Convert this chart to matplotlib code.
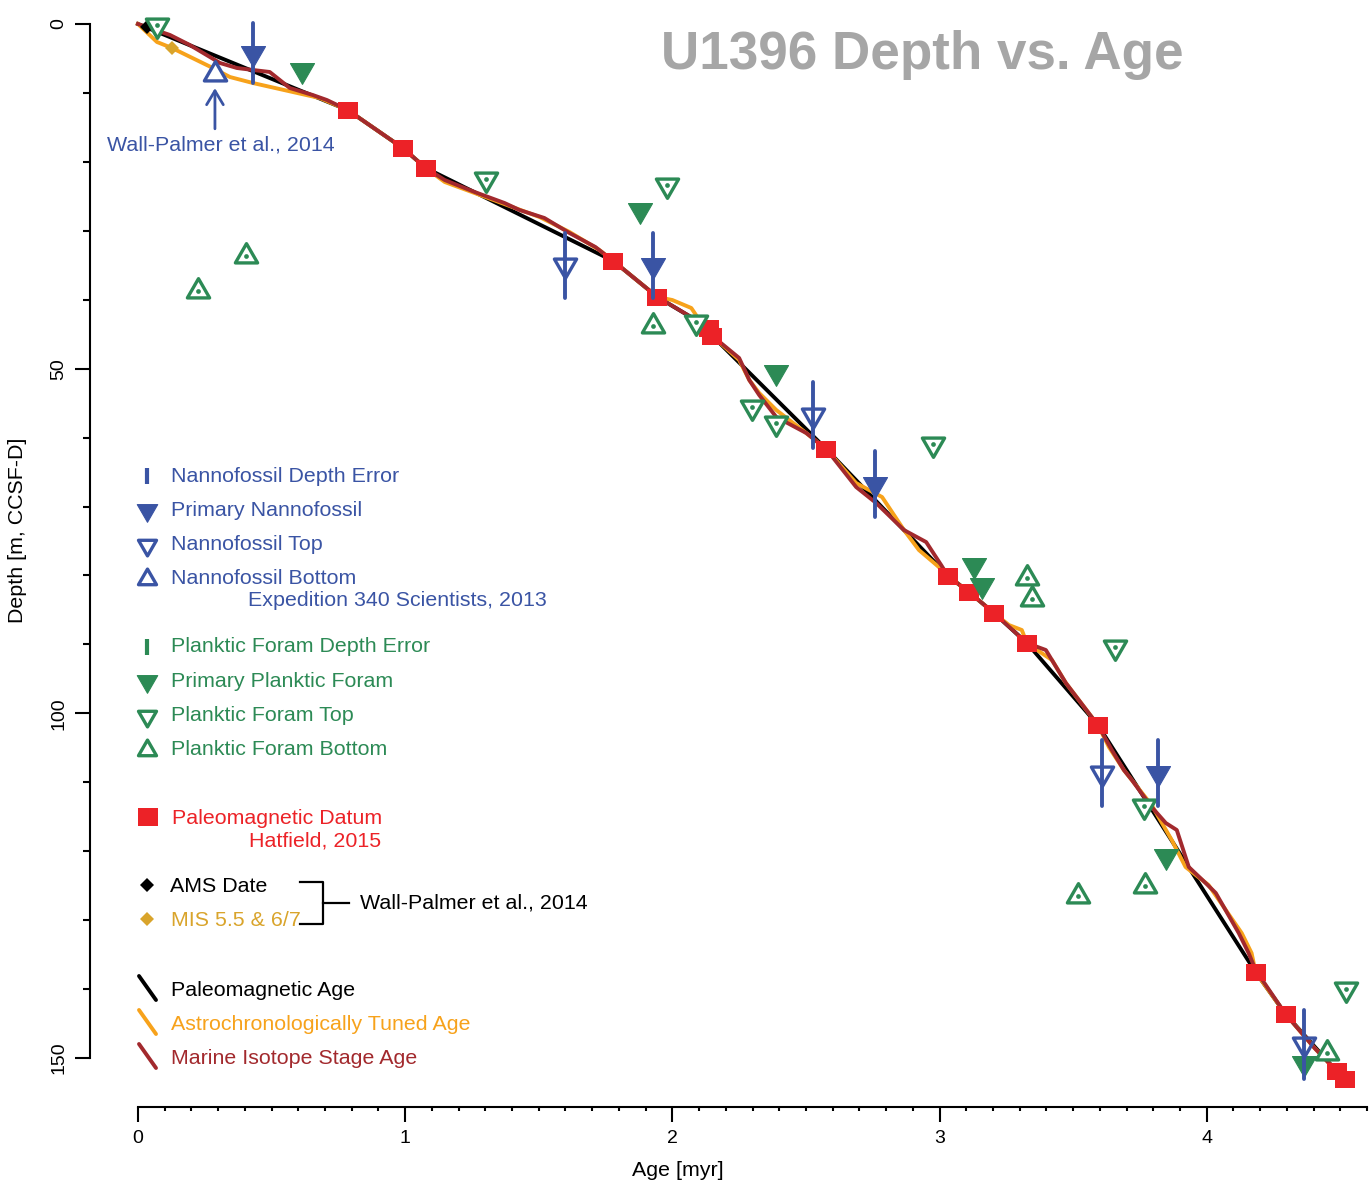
import matplotlib
matplotlib.use('Agg')
import matplotlib.pyplot as plt
from matplotlib.path import Path
from matplotlib.ticker import MultipleLocator

plt.rcParams['font.family'] = ['Liberation Sans', 'DejaVu Sans']

# ---------------- data ----------------
# Paleomagnetic reversal datums (age in myr, depth in m CCSF-D)
pmag_age = [0.785, 0.991, 1.077, 1.779, 1.944, 2.138, 2.150, 2.576, 3.032, 3.110,
            3.204, 3.327, 3.593, 4.183, 4.295, 4.486, 4.516]
pmag_depth = [12.48, 17.99, 20.89, 34.38, 39.60, 44.10, 45.26, 61.66, 80.08, 82.40,
              85.45, 89.80, 101.70, 137.53, 143.62, 151.89, 153.05]

# Paleomagnetic age model: linear between datums from the core top
paleo_line_age = [0.0] + pmag_age
paleo_line_depth = [0.0] + pmag_depth

# Astrochronologically tuned age model
astro_age = [0.000, 0.071, 0.127, 0.280, 0.344, 0.430, 0.579, 0.680, 0.785, 0.991,
             1.077, 1.148, 1.260, 1.391, 1.503, 1.615, 1.727, 1.779, 1.944, 2.000,
             2.071, 2.101, 2.138, 2.150, 2.250, 2.288, 2.325, 2.389, 2.501, 2.576,
             2.688, 2.785, 2.867, 2.923, 2.998, 3.032, 3.110, 3.204, 3.260, 3.308,
             3.327, 3.421, 3.473, 3.570, 3.593, 3.634, 3.690, 3.794, 3.869, 3.921,
             4.007, 4.131, 4.168, 4.183, 4.295, 4.404, 4.486, 4.516]
astro_depth = [0.00, 2.61, 3.48, 6.38, 7.69, 8.56, 9.86, 10.74, 12.48, 17.99,
               20.89, 22.92, 24.52, 26.40, 28.00, 30.17, 32.79, 34.38, 39.60, 40.04,
               41.20, 42.94, 44.10, 45.26, 48.74, 51.65, 53.53, 56.00, 59.33, 61.66,
               66.59, 68.62, 73.41, 76.31, 78.78, 80.08, 82.40, 85.45, 87.19, 87.91,
               89.80, 92.27, 95.60, 100.54, 101.70, 104.89, 108.22, 113.30, 118.37, 122.29,
               124.90, 131.87, 134.77, 137.53, 143.62, 148.56, 151.89, 153.05]

# Marine isotope stage age model
mis_age = [0.000, 0.120, 0.194, 0.307, 0.370, 0.430, 0.493, 0.568, 0.654, 0.707,
           0.785, 0.991, 1.077, 1.148, 1.260, 1.372, 1.428, 1.521, 1.615, 1.712,
           1.779, 1.944, 2.064, 2.138, 2.150, 2.250, 2.288, 2.325, 2.389, 2.501,
           2.576, 2.688, 2.763, 2.867, 2.950, 3.006, 3.032, 3.110, 3.204, 3.327,
           3.398, 3.473, 3.570, 3.593, 3.645, 3.690, 3.720, 3.794, 3.847, 3.888,
           3.933, 3.996, 4.034, 4.120, 4.157, 4.183, 4.295, 4.404, 4.486, 4.516]
mis_depth = [0.00, 1.60, 3.05, 5.66, 6.38, 6.67, 6.96, 9.28, 10.30, 11.03,
             12.48, 17.99, 20.89, 22.63, 24.37, 25.97, 26.98, 28.14, 30.32, 32.35,
             34.38, 39.60, 42.36, 44.10, 45.26, 48.45, 51.65, 53.82, 57.01, 59.33,
             61.66, 67.17, 69.49, 73.41, 75.15, 78.48, 80.08, 82.40, 85.45, 89.80,
             90.81, 95.60, 100.54, 101.70, 105.32, 108.22, 109.67, 113.59, 115.91, 116.92,
             122.29, 124.61, 126.06, 131.87, 134.77, 137.24, 143.62, 148.56, 151.89, 153.05]

# Calcareous nannofossil events (Expedition 340 Scientists, 2013)
nanno_prim_age = [0.430, 1.929, 2.759, 3.817]
nanno_prim_depth = [4.2, 35.0, 66.7, 108.6]
nanno_prim_err = [4.3, 4.7, 4.8, 4.8]
nanno_top_age = [1.600, 2.527, 3.607, 4.363]
nanno_top_depth = [35.0, 56.7, 108.6, 148.0]
nanno_top_err = [4.7, 4.8, 4.8, 5.0]
nanno_bot_age = [0.288]
nanno_bot_depth = [7.2]

# Planktic foraminifer events
foram_prim_age = [0.613, 1.880, 2.389, 3.129, 3.159, 3.847, 4.366]
foram_prim_depth = [6.7, 27.0, 50.5, 78.5, 81.4, 120.7, 150.7]
foram_top_age = [0.071, 1.301, 1.981, 2.090, 2.299, 2.389, 2.976, 3.656, 3.764, 4.523]
foram_top_depth = [0.2, 22.5, 23.4, 43.2, 55.6, 57.9, 60.9, 90.4, 113.4, 140.0]
foram_bot_age = [0.224, 0.404, 1.929, 3.327, 3.346, 3.518, 3.768, 4.449]
foram_bot_depth = [38.7, 33.7, 43.8, 80.4, 83.4, 126.5, 125.1, 149.3]

# Wall-Palmer et al. (2014) tie points
ams_age = [0.034]
ams_depth = [0.4]
mis_tie_age = [0.127]
mis_tie_depth = [3.5]

x_ticks = [0, 1, 2, 3, 4]
y_ticks = [0, 50, 100, 150]

# ---------------- style ----------------
BLUE = '#3A54A4'
GREEN = '#2C8A55'
RED = '#EC2227'
ORANGE = '#F7A21B'
MAROON = '#A2292D'
GOLD = '#D9A42B'
GREY = '#A6A6A6'
FS = 15.4

closed4 = [Path.MOVETO, Path.LINETO, Path.LINETO, Path.CLOSEPOLY]
TRI_DOWN = Path([(-1, 0.577), (1, 0.577), (0, -1.155), (-1, 0.577)], closed4)
TRI_UP = Path([(-1, -0.577), (1, -0.577), (0, 1.155), (-1, -0.577)], closed4)
RECT = Path([(-1, -0.85), (1, -0.85), (1, 0.85), (-1, 0.85), (-1, -0.85)],
            [Path.MOVETO, Path.LINETO, Path.LINETO, Path.LINETO, Path.CLOSEPOLY])

W, H = 1371, 1187
fig = plt.figure(figsize=(W / 100, H / 100), dpi=100)
ax = fig.add_axes([138 / W, 1 - 1107 / H, (1367 - 138) / W, (1107 - 24) / H])
ax.set_xlim(0, 4.6)
ax.set_ylim(157.1, 0)

# age models
ax.plot(paleo_line_age, paleo_line_depth, color='black', lw=2.8, zorder=2,
        solid_joinstyle='round', clip_on=False)
ax.plot(astro_age, astro_depth, color=ORANGE, lw=2.8, zorder=3,
        solid_joinstyle='round', clip_on=False)
ax.plot(mis_age, mis_depth, color=MAROON, lw=2.8, zorder=4,
        solid_joinstyle='round', clip_on=False)

# paleomagnetic datums and dated horizons
ax.plot(pmag_age, pmag_depth, ls='none', marker=RECT, ms=14.4, mew=0,
        color=RED, zorder=5, clip_on=False)
ax.plot(ams_age, ams_depth, ls='none', marker='D', ms=7.5, mew=0,
        color='black', zorder=5, clip_on=False)
ax.plot(mis_tie_age, mis_tie_depth, ls='none', marker='D', ms=7.5, mew=0,
        color=GOLD, zorder=5, clip_on=False)

# planktic foraminifera
ax.plot(foram_prim_age, foram_prim_depth, ls='none', marker=TRI_DOWN, ms=20,
        mew=0.8, color=GREEN, zorder=6, clip_on=False)
ax.plot(foram_top_age, foram_top_depth, ls='none', marker=TRI_DOWN, ms=18.5,
        mew=2.4, mfc='white', mec=GREEN, zorder=6, clip_on=False)
ax.plot(foram_bot_age, foram_bot_depth, ls='none', marker=TRI_UP, ms=18.5,
        mew=2.4, mfc='white', mec=GREEN, zorder=6, clip_on=False)
ax.plot(foram_top_age + foram_bot_age, foram_top_depth + foram_bot_depth,
        ls='none', marker='o', ms=3.4, mew=0, color=GREEN, zorder=6, clip_on=False)

# calcareous nannofossils
for a, d, e in ((nanno_prim_age, nanno_prim_depth, nanno_prim_err),
                (nanno_top_age, nanno_top_depth, nanno_top_err)):
    eb = ax.errorbar(a, d, yerr=e, fmt='none', ecolor=BLUE, elinewidth=2.8,
                     capsize=0, zorder=7)
    for coll in eb[2]:
        coll.set_capstyle('round')
        coll.set_clip_on(False)
ax.plot(nanno_prim_age, nanno_prim_depth, ls='none', marker=TRI_DOWN, ms=20,
        mew=0.8, color=BLUE, zorder=7, clip_on=False)
ax.plot(nanno_top_age, nanno_top_depth, ls='none', marker=TRI_DOWN, ms=18.5,
        mew=2.4, mfc='none', mec=BLUE, zorder=7, clip_on=False)
ax.plot(nanno_bot_age, nanno_bot_depth, ls='none', marker=TRI_UP, ms=18.5,
        mew=2.4, mfc='white', mec=BLUE, zorder=7, clip_on=False)

ax.annotate('', xy=(nanno_bot_age[0], 9.3), xytext=(nanno_bot_age[0], 15.2),
            arrowprops=dict(arrowstyle='->,head_length=0.5,head_width=0.3',
                            color=BLUE, lw=2, mutation_scale=20,
                            shrinkA=0, shrinkB=0))
ax.text(0.31, 17.55, 'Wall-Palmer et al., 2014', color=BLUE, fontsize=FS,
        ha='center', va='center')

# axes
for side in ('top', 'right'):
    ax.spines[side].set_visible(False)
ax.spines['left'].set_position(('outward', 34.6))
ax.spines['left'].set_bounds(0, 150)
ax.spines['bottom'].set_bounds(0, 4.6)
for side in ('left', 'bottom'):
    ax.spines[side].set_linewidth(1.5)
ax.set_xticks(x_ticks)
ax.set_yticks(y_ticks)
ax.xaxis.set_minor_locator(MultipleLocator(0.1))
ax.yaxis.set_minor_locator(MultipleLocator(10))
ax.tick_params(which='major', direction='out', length=11, width=1.5,
               labelsize=14, pad=5.5)
ax.tick_params(axis='x', which='minor', direction='out', length=3, width=1.5)
ax.tick_params(axis='y', which='minor', direction='out', length=5, width=1.5)
ax.tick_params(axis='y', labelrotation=90)
plt.setp(ax.get_yticklabels(), va='center')
ax.patch.set_alpha(0)

fig.text(18 / W, 1 - 530 / H, 'Depth [m, CCSF-D]', rotation=90, fontsize=FS,
         ha='center', va='center')
fig.text(678 / W, 1 - 1170 / H, 'Age [myr]', fontsize=FS, ha='center', va='center')
fig.text(922 / W, 1 - 55 / H, 'U1396 Depth vs. Age', fontsize=38.2,
         fontweight='bold', color=GREY, ha='center', va='center')

# ---------------- key ----------------
key = fig.add_axes([0, 0, 1, 1], zorder=10)
key.set_xlim(0, W)
key.set_ylim(H, 0)
key.axis('off')
key.patch.set_alpha(0)

def key_text(x, y, s, c):
    key.text(x, y, s, color=c, fontsize=FS, ha='left', va='center')

blue_rows = ['Nannofossil Depth Error', 'Primary Nannofossil', 'Nannofossil Top',
             'Nannofossil Bottom']
green_rows = ['Planktic Foram Depth Error', 'Primary Planktic Foram',
              'Planktic Foram Top', 'Planktic Foram Bottom']
for rows, col, y0 in ((blue_rows, BLUE, 476), (green_rows, GREEN, 647)):
    ys = [y0 + 34.3 * i for i in range(4)]
    key.plot([147, 147], [ys[0] - 8, ys[0] + 8], color=col, lw=3,
             solid_capstyle='butt')
    key.plot([147], [ys[1]], marker=TRI_DOWN, ms=17, mew=0.8, color=col)
    key.plot([147], [ys[2]], marker=TRI_DOWN, ms=15, mew=2.4, mfc='none', mec=col)
    key.plot([147], [ys[3]], marker=TRI_UP, ms=15, mew=2.4, mfc='none', mec=col)
    for y, s in zip(ys, rows):
        key_text(171, y, s, col)
key_text(248, 601, 'Expedition 340 Scientists, 2013', BLUE)

key.plot([148], [817], marker=RECT, ms=15, mew=0, color=RED)
key_text(172, 818, 'Paleomagnetic Datum', RED)
key_text(249, 841, 'Hatfield, 2015', RED)

key.plot([147], [885], marker='D', ms=7.5, mew=0, color='black')
key_text(170, 887, 'AMS Date', 'black')
key.plot([147], [919], marker='D', ms=7.5, mew=0, color=GOLD)
key_text(171, 921, 'MIS 5.5 & 6/7', GOLD)
key.plot([300, 323, 323, 300], [882, 882, 924, 924], color='black', lw=1.6)
key.plot([323, 349], [903, 903], color='black', lw=1.6)
key_text(360, 903, 'Wall-Palmer et al., 2014', 'black')

for y, s, c in ((990, 'Paleomagnetic Age', 'black'),
                (1024, 'Astrochronologically Tuned Age', ORANGE),
                (1058, 'Marine Isotope Stage Age', MAROON)):
    key.plot([139, 156], [y - 14, y + 10], color=c, lw=2.8, solid_capstyle='round')
    key_text(171, y, s, c)

fig.savefig('out.png', dpi=100)
